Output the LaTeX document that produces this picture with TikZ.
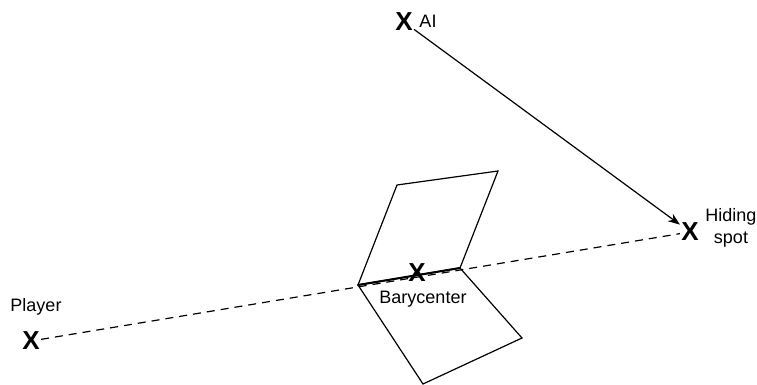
\documentclass[tikz,border=0pt]{standalone}
\usepackage{fontspec}
\setmainfont{Liberation Sans}
\usetikzlibrary{arrows.meta}

\begin{document}
\begin{tikzpicture}[x=0.5pt, y=-0.5pt,
        xmark/.style={inner sep=0.5pt, font=\fontsize{13}{13}\selectfont\bfseries},
        lbl/.style={inner sep=0pt, align=center, font=\fontsize{9}{11}\selectfont}]
        \useasboundingbox (0,0) rectangle (757,385);
        % the three points
        \node[xmark] (ai) at (404,22) {X};
        \node[xmark] (hide) at (690,232) {X};
        \node[xmark] (player) at (31,341) {X};
        \node[lbl] (ailbl) at (428,21) {AI};
        \node[lbl] (hidelbl) at (731,228) {Hiding\\spot};
        \node[lbl] (playerlbl) at (36,307) {Player};
        % the two flaps
        \coordinate (fa) at (358,285);
        \coordinate (fb) at (397,185);
        \coordinate (fc) at (498,171);
        \coordinate (fd) at (460,268);
        \coordinate (fe) at (522,338);
        \coordinate (ff) at (423,384);
        \draw[line width=0.6pt] (fa) -- (fb) -- (fc) -- (fd) -- cycle;
        \draw[line width=0.6pt] (fa) -- (fd) -- (fe) -- (ff) -- cycle;
        \draw[dashed, line width=0.6pt, dash pattern=on 4pt off 3pt] (player) -- (hide);
        \draw[line width=1pt] (fa) -- (fd);
        \node[xmark] (bary) at (417,273) {X};
        \node[lbl] (barylbl) at (423,299) {Barycenter};
        \draw[-{Stealth[length=6pt, width=4.5pt]}, line width=0.6pt] (ai) -- (hide);
    \end{tikzpicture}
\end{document}
